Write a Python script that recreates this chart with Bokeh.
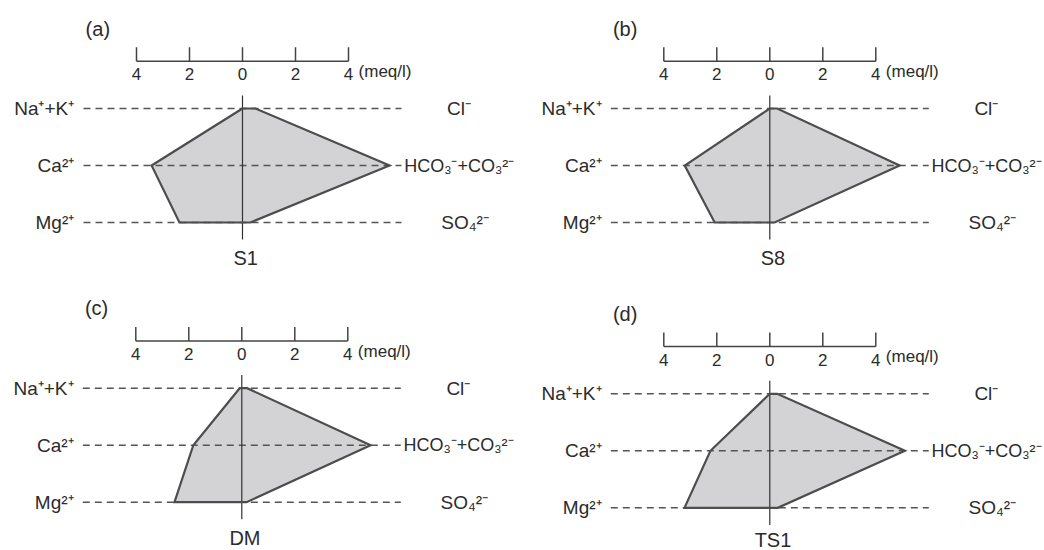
from bokeh.plotting import figure
from bokeh.layouts import gridplot
from bokeh.models import Range1d
from bokeh.core.properties import value
from bokeh.embed import file_html
from bokeh.resources import INLINE

# ---------------- data ----------------
panel_tags = ["(a)", "(b)", "(c)", "(d)"]
samples = ["S1", "S8", "DM", "TS1"]
cation_labels = ["Na⁺+K⁺", "Ca²⁺", "Mg²⁺"]
anion_labels = ["Cl⁻", "HCO₃⁻+CO₃²⁻", "SO₄²⁻"]
scale_ticks = [-4, -2, 0, 2, 4]
scale_tick_labels = ["4", "2", "0", "2", "4"]
scale_unit = "(meq/l)"

# concentrations in meq/l, order: Na+K, Ca, Mg
cations_S1 = [0.0, 3.43, 2.38]
cations_S8 = [0.0, 3.21, 2.08]
cations_DM = [0.08, 1.83, 2.54]
cations_TS1 = [0.0, 2.24, 3.22]
# order: Cl, HCO3+CO3, SO4
anions_S1 = [0.49, 5.55, 0.30]
anions_S8 = [0.28, 4.90, 0.18]
anions_DM = [0.20, 4.86, 0.18]
anions_TS1 = [0.28, 5.10, 0.30]

cations = [cations_S1, cations_S8, cations_DM, cations_TS1]
anions = [anions_S1, anions_S8, anions_DM, anions_TS1]

# ---------------- layout / style ----------------
W, H = 522, 275
PX_PER_MEQ = 26.5
PX_PER_ROW = 57.0
# figure-local pixel position of the zero line and of the Mg row
origins = [(242.0, 222.0), (247.3, 222.0), (241.3, 226.7), (247.3, 232.3)]
name_y = [-0.62, -0.62, -0.62, -0.56]
row_y = [2, 1, 0]
FONT = value("Liberation Sans")
TXT = "#2b2b2b"

def make_panel(i):
    zx, my = origins[i]
    p = figure(width=W, height=H, output_backend="svg", toolbar_location=None,
               x_range=Range1d(-zx / PX_PER_MEQ, (W - zx) / PX_PER_MEQ),
               y_range=Range1d(-(H - my) / PX_PER_ROW, my / PX_PER_ROW),
               min_border=0, tools="")
    p.xaxis.visible = False
    p.yaxis.visible = False
    p.grid.visible = False
    p.outline_line_color = None
    p.background_fill_color = "white"
    p.border_fill_color = "white"

    cat, an = cations[i], anions[i]
    xs = [-cat[0], -cat[1], -cat[2], an[2], an[1], an[0]]
    ys = [row_y[0], row_y[1], row_y[2], row_y[2], row_y[1], row_y[0]]
    p.patch(xs, ys, fill_color="#d3d3d5", line_color=None)

    # dashed row lines
    p.segment(x0=[-6.0] * 3, x1=[6.0] * 3, y0=row_y, y1=row_y,
              line_color="#555555", line_width=1.4, line_dash="7 5")
    # central vertical line
    p.segment(x0=[0], x1=[0], y0=[-0.30], y1=[2.23], line_color="#333333", line_width=1.2)
    # polygon outline
    p.patch(xs, ys, fill_alpha=0, line_color="#4d4d4d", line_width=2.2, line_join="miter")

    # scale bar
    bar_y = 2.83
    p.segment(x0=[scale_ticks[0]], x1=[scale_ticks[-1]], y0=[bar_y], y1=[bar_y],
              line_color="#444444", line_width=1.5)
    p.segment(x0=scale_ticks, x1=scale_ticks, y0=[bar_y] * 5, y1=[bar_y + 0.245] * 5,
              line_color="#444444", line_width=1.5)
    p.text(x=scale_ticks, y=[2.60] * 5, text=scale_tick_labels, text_font=FONT,
           text_font_size="17px", text_align="center", text_baseline="middle", text_color=TXT)
    p.text(x=[4.38], y=[2.65], text=[scale_unit], text_font=FONT, text_font_size="17px",
           text_align="left", text_baseline="middle", text_color=TXT)

    # panel tag and sample name
    p.text(x=[-5.92], y=[3.40], text=[panel_tags[i]], text_font=FONT, text_font_size="20px",
           text_align="left", text_baseline="middle", text_color=TXT)
    p.text(x=[0.12], y=[name_y[i]], text=[samples[i]], text_font=FONT, text_font_size="20px",
           text_align="center", text_baseline="middle", text_color=TXT)

    # ion labels
    p.text(x=[-6.35] * 3, y=row_y, text=cation_labels, text_font=FONT, text_font_size="19px",
           text_align="right", text_baseline="middle", text_color=TXT)
    p.text(x=[7.72, 7.5], y=[row_y[0], row_y[2]], text=[anion_labels[0], anion_labels[2]],
           text_font=FONT, text_font_size="19px", text_align="left", text_baseline="middle",
           text_color=TXT)
    p.text(x=[6.1], y=[row_y[1]], text=[anion_labels[1]], text_font=FONT,
           text_font_size="18px", text_align="left", text_baseline="middle", text_color=TXT)
    return p

panels = [make_panel(i) for i in range(4)]
grid = gridplot([[panels[0], panels[1]], [panels[2], panels[3]]], toolbar_location=None)

open("out.html", "w").write(file_html(grid, INLINE))
